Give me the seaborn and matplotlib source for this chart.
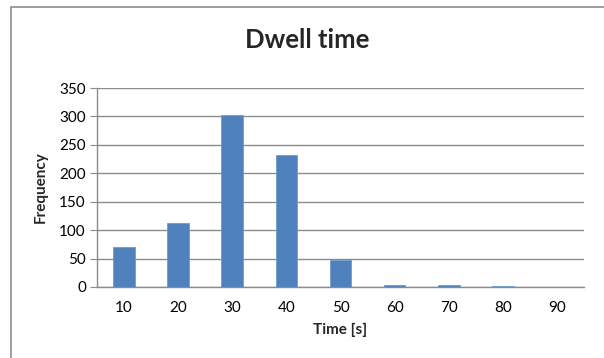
import numpy as np
import pandas as pd
import seaborn as sns
import matplotlib.pyplot as plt
from matplotlib.patches import Rectangle

sns.set_style("white")
plt.rcParams['font.family'] = ['Lato', 'DejaVu Sans']

time_bins = ["10", "20", "30", "40", "50", "60", "70", "80", "90"]
frequency = [70, 113, 302, 233, 47, 3, 3, 1, 0]

df = pd.DataFrame({'time': time_bins, 'freq': frequency})

fig = plt.figure(figsize=(6.04, 3.58), dpi=100)
ax = fig.add_axes([97 / 604, 1 - 287 / 358, (584 - 97) / 604, (287 - 88) / 358])

sns.barplot(x='time', y='freq', data=df, color='#4F81BD', width=0.4,
            saturation=1, ax=ax, zorder=3, edgecolor='#6f9bd0', linewidth=0.6)

ax.set_ylim(0, 350)
ax.set_xlim(-0.5, len(time_bins) - 0.5)
ax.set_yticks(np.arange(0, 351, 50))
ax.yaxis.grid(True, color='#8c8c8c', linewidth=1.0, zorder=0)
ax.set_axisbelow(True)

for side in ['top', 'right']:
    ax.spines[side].set_visible(False)
for side in ['left', 'bottom']:
    ax.spines[side].set_color('#8c8c8c')
    ax.spines[side].set_linewidth(1.0)

# category separators as tick marks on the x axis
ax.set_xticks(np.arange(-0.5, len(time_bins), 1.0), minor=True)
ax.tick_params(axis='x', which='minor', length=5, color='#8c8c8c', direction='out')
ax.tick_params(axis='x', which='major', length=0, labelsize=11, pad=10, colors='black')
ax.tick_params(axis='y', length=5, color='#8c8c8c', direction='out', labelsize=11,
               colors='black', pad=3)
ax.tick_params(left=True, bottom=True)

ax.set_xlabel('Time [s]', fontsize=11, fontweight='bold', labelpad=6)
ax.set_ylabel('Frequency', fontsize=11, fontweight='bold', labelpad=8)
fig.text(307 / 604, 1 - 40 / 358, 'Dwell time', ha='center', va='center',
         fontsize=18.5, fontweight='bold')

fig.patches.append(Rectangle((11 / 604, -0.1), 1.2, 1 - 7 / 358 + 0.1,
                             transform=fig.transFigure, fill=False,
                             edgecolor='#8c8c8c', linewidth=1.2))

fig.savefig('out.png', dpi=100)
